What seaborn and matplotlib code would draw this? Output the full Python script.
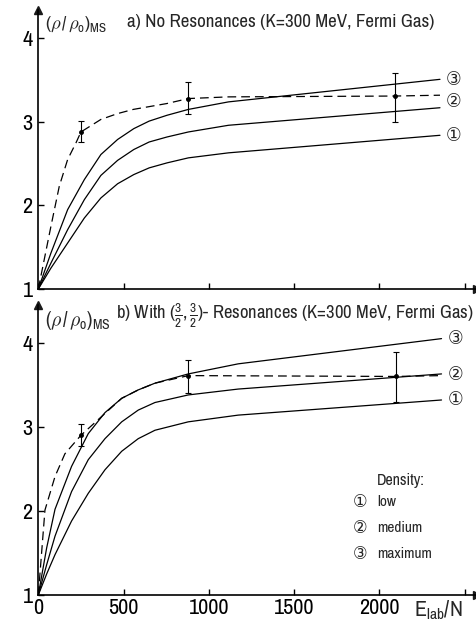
import numpy as np
import pandas as pd
import seaborn as sns
import matplotlib.pyplot as plt
from matplotlib import font_manager

sns.set_theme(style="ticks")

# the original lettering is very condensed: look for a narrow/condensed face
BAD = ("Bold", "Italic", "Oblique", "Light", "Semi", "Extra", "Black", "Thin", "Medium")
cands = [
    f for f in font_manager.fontManager.ttflist
    if ("Narrow" in f.fname or "Condensed" in f.fname)
    and not any(b in f.fname.split("/")[-1] for b in BAD)
]
cands.sort(key=lambda f: ("Narrow" not in f.fname, "DejaVu" not in f.fname))
if cands:
    FONT, STRETCH = cands[0].name, cands[0].stretch
else:
    FONT, STRETCH = "DejaVu Sans", "normal"
NARROW = bool(cands)
plt.rcParams["font.family"] = [FONT, "DejaVu Sans"]
plt.rcParams["font.stretch"] = STRETCH
plt.rcParams["mathtext.fontset"] = "custom"
for k in ("rm", "it", "bf"):
    plt.rcParams[f"mathtext.{k}"] = f"{FONT}:stretch={STRETCH}"

# ---- panel a) no resonances ----
E_A = [0, 74, 172, 270, 367, 465, 560, 650, 755, 880, 1115, 2355]
LOW_A = [1.0, 1.25, 1.55, 1.85, 2.09, 2.26, 2.37, 2.45, 2.51, 2.57, 2.63, 2.84]
MED_A = [1.0, 1.31, 1.71, 2.07, 2.36, 2.54, 2.67, 2.76, 2.82, 2.88, 2.96, 3.17]
MAX_A = [1.0, 1.43, 1.95, 2.31, 2.61, 2.79, 2.92, 3.01, 3.08, 3.15, 3.24, 3.51]
E_DASH_A = [0, 74, 123, 172, 221, 250, 367, 465, 557, 753, 880, 1115, 2090, 2355]
DASH_A = [1.0, 1.75, 2.23, 2.55, 2.75, 2.88, 3.03, 3.10, 3.15, 3.22, 3.28, 3.30, 3.31, 3.32]
BAR_E_A = [250, 880, 2090]
BAR_MID_A = [2.88, 3.28, 3.31]
BAR_LO_A = [2.76, 3.09, 3.00]
BAR_HI_A = [3.01, 3.48, 3.58]

# ---- panel b) with (3/2,3/2) resonances ----
E_B = [0, 49, 98, 195, 293, 391, 489, 586, 684, 879, 1172, 2364]
LOW_B = [1.0, 1.25, 1.48, 1.88, 2.21, 2.49, 2.71, 2.86, 2.96, 3.06, 3.14, 3.32]
MED_B = [1.0, 1.36, 1.70, 2.23, 2.61, 2.86, 3.06, 3.20, 3.29, 3.38, 3.45, 3.63]
MAX_B = [1.0, 1.56, 2.02, 2.53, 2.92, 3.17, 3.34, 3.44, 3.52, 3.63, 3.75, 4.05]
E_DASH_B = [0, 39, 98, 156, 250, 391, 489, 586, 684, 880, 2095, 2364]
DASH_B = [1.0, 2.01, 2.41, 2.68, 2.90, 3.16, 3.34, 3.44, 3.52, 3.61, 3.60, 3.61]
BAR_E_B = [250, 880, 2095]
BAR_MID_B = [2.90, 3.61, 3.60]
BAR_LO_B = [2.77, 3.40, 3.30]
BAR_HI_B = [3.03, 3.80, 3.89]

DENSITY = ["low", "medium", "maximum"]
MARKS = ["\u2460", "\u2461", "\u2462"]
X_TICKS = [0, 500, 1000, 1500, 2000, 2500]
Y_TICKS = [1, 2, 3, 4]
TICK_SIZE = 16 if NARROW else 13

W, H = 477, 626
fig = plt.figure(figsize=(W / 100, H / 100), dpi=100)
ax_a = fig.add_axes([38.3 / W, 1 - 289 / H, (W - 38.3) / W, 279 / H])
ax_b = fig.add_axes([38.3 / W, 1 - 595 / H, (W - 38.3) / W, 290 / H])


def draw_panel(ax, e, curves, e_dash, dash, bars, ytop):
    df = pd.DataFrame(
        {"E": np.tile(e, 3), "rho": np.concatenate(curves), "density": np.repeat(DENSITY, len(e))}
    )
    sns.lineplot(
        data=df, x="E", y="rho", units="density", estimator=None, sort=False,
        color="black", lw=0.9, ax=ax,
    )
    sns.lineplot(
        x=e_dash, y=dash, color="black", lw=0.9, linestyle=(0, (7, 4)),
        sort=False, estimator=None, ax=ax,
    )
    be, mid, lo, hi = (np.array(v) for v in bars)
    ax.errorbar(
        be, mid, yerr=[mid - lo, hi - mid], fmt="o", ms=2.5, color="black",
        elinewidth=0.8, capsize=2.5, capthick=0.8,
    )
    # circled labels at the right end of the curves
    ends = [curves[0][-1], (curves[1][-1] + dash[-1]) / 2, curves[2][-1]]
    for m, y in zip(MARKS, ends):
        ax.annotate(
            m, xy=(e[-1], y), xytext=(10, 0), textcoords="offset points",
            ha="center", va="center", fontsize=14, family=["DejaVu Sans"],
            annotation_clip=False,
        )
    ax.set_xlim(0, 2572)
    ax.set_ylim(1, ytop)
    ax.set_xticks(X_TICKS)
    ax.set_yticks(Y_TICKS)
    ax.set_xlabel("")
    ax.set_ylabel("")
    sns.despine(ax=ax)
    for s in ("left", "bottom"):
        ax.spines[s].set_linewidth(1.2)
        ax.spines[s].set_color("black")
    ax.tick_params(direction="in", length=4, width=1, colors="black",
                   labelsize=TICK_SIZE, pad=2)
    ax.tick_params(axis="y", pad=4)
    ax.plot(1, 0, ">k", ms=6, transform=ax.transAxes, clip_on=False)
    ax.plot(0, 1, "^k", ms=6, transform=ax.transAxes, clip_on=False)
    return ax.text(
        0.016, 0.985, r"$(\rho\,/\,\rho_{\mathrm{o}})_{\mathrm{MS}}$",
        transform=ax.transAxes, fontsize=13, va="top", ha="left",
    )


lab_a = draw_panel(
    ax_a, E_A, [LOW_A, MED_A, MAX_A], E_DASH_A, DASH_A,
    [BAR_E_A, BAR_MID_A, BAR_LO_A, BAR_HI_A], 4.34,
)
lab_b = draw_panel(
    ax_b, E_B, [LOW_B, MED_B, MAX_B], E_DASH_B, DASH_B,
    [BAR_E_B, BAR_MID_B, BAR_LO_B, BAR_HI_B], 4.45,
)
ax_a.set_xticklabels([])
ax_b.set_xticklabels(["0", "500", "1000", "1500", "2000", ""])

t_a = fig.text(127 / W, 1 - 22 / H, "a) No Resonances (K=300 MeV, Fermi Gas)",
               fontsize=14, va="center", ha="left")
t_b = fig.text(116 / W, 1 - 316 / H,
               r"b) With $(\frac{3}{2},\frac{3}{2})$- Resonances (K=300 MeV, Fermi Gas)",
               fontsize=14, va="center", ha="left")
fig.text(438 / W, 1 - 610 / H, r"E$_{\mathrm{lab}}$/N", fontsize=TICK_SIZE,
         va="center", ha="center")

# density legend
fig.text(401 / W, 1 - 480 / H, "Density:", fontsize=11.5, ha="center", va="center")
for i, (m, d) in enumerate(zip(MARKS, DENSITY)):
    y = 1 - (502 + 26 * i) / H
    fig.text(360 / W, y, m, fontsize=13, ha="center", va="center", family=["DejaVu Sans"])
    fig.text(377 / W, y, d, fontsize=11, ha="left", va="center")

# fit the header texts to the width they take in the original
fig.canvas.draw()
for t, width in ((t_a, 308), (t_b, 358), (lab_a, 62), (lab_b, 66)):
    w = t.get_window_extent().width
    t.set_fontsize(t.get_fontsize() * width / w)

fig.savefig("out.png", dpi=100)
plt.close()
